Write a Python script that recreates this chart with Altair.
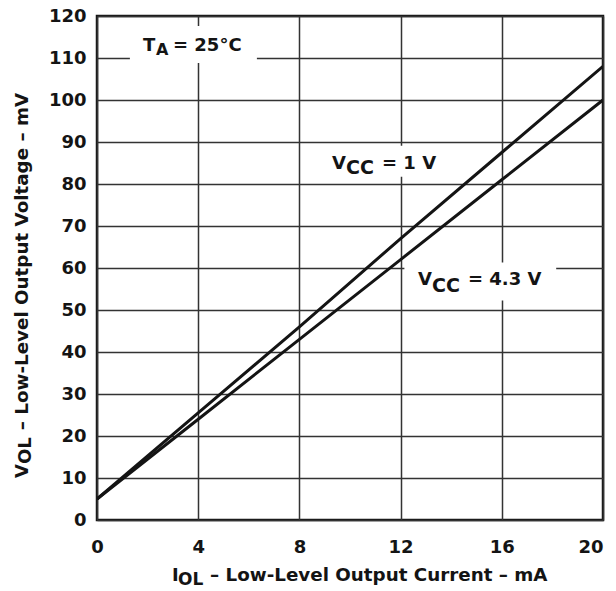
import altair as alt
import pandas as pd

# ---- data ----
current_ma = [0, 4, 8, 12, 16, 20]
vol_vcc_1v = [5, 25.5, 46, 67, 87.5, 108]
vol_vcc_43v = [5, 24, 43, 62, 81, 100]
series_names = ["VCC = 1 V", "VCC = 4.3 V"]

x_ticks = [0, 4, 8, 12, 16, 20]
y_ticks = [0, 10, 20, 30, 40, 50, 60, 70, 80, 90, 100, 110, 120]

# annotation pieces (data units): text, x, y, font size
ann_text = ["T", "A", "= 25°C",
            "V", "CC", "= 1 V",
            "V", "CC", "= 4.3 V",
            "I", "OL", "– Low-Level Output Current – mA"]
ann_x = [1.818, 2.332, 3.004,
         9.288, 9.842, 11.265,
         12.688, 13.241, 14.664,
         2.96, 3.20, 4.47]
ann_y = [111.68, 110.73, 111.68,
         83.64, 82.46, 83.64,
         55.84, 54.18, 55.84,
         -14.50, -15.45, -14.50]
ann_size = [18, 16, 18,
            18, 19, 18,
            18, 19, 18,
            18, 17, 18.3]

# rotated y-axis title pieces
yt_text = ["V", "OL", "– Low-Level Output Voltage – mV"]
yt_x = [-2.747, -2.589, -2.747]
yt_y = [9.98, 13.31, 21.39]
yt_size = [18, 18, 18.3]

# white label backgrounds (break the grid behind labels)
box_x1 = [1.3, 9.0, 12.15]
box_x2 = [6.32, 13.55, 18.15]
box_y1 = [108.83, 81.74, 52.28]
box_y2 = [117.62, 89.11, 61.31]

# ---- tables ----
lines_df = pd.DataFrame({
    "i": current_ma * 2,
    "v": vol_vcc_1v + vol_vcc_43v,
    "s": [series_names[0]] * len(current_ma) + [series_names[1]] * len(current_ma),
})
ann_df = pd.DataFrame({"t": ann_text, "x": ann_x, "y": ann_y, "fs": ann_size})
yt_df = pd.DataFrame({"t": yt_text, "x": yt_x, "y": yt_y, "fs": yt_size})
box_df = pd.DataFrame({"x1": box_x1, "x2": box_x2, "y1": box_y1, "y2": box_y2})

FONT = "DejaVu Sans"
INK = "#141414"
GRID = "#333333"

x_scale = alt.Scale(domain=[0, 20], nice=False, zero=False)
y_scale = alt.Scale(domain=[0, 120], nice=False, zero=False)

x_axis = alt.Axis(values=x_ticks, grid=True, gridColor=GRID, gridWidth=1.5, gridOpacity=1,
                  domain=False, ticks=False, labelFont=FONT, labelFontWeight="bold",
                  labelFontSize=18, labelColor=INK, labelPadding=18, labelFlush=False,
                  labelAlign={"condition": {"test": "datum.value >= 20", "value": "right"},
                              "value": "center"},
                  title=None)
y_axis = alt.Axis(values=y_ticks, grid=True, gridColor=GRID, gridWidth=1.5, gridOpacity=1,
                  domain=False, ticks=False, labelFont=FONT, labelFontWeight="bold",
                  labelFontSize=18, labelColor=INK, labelPadding=11, title=None)


def xe(field):
    return alt.X(field, type="quantitative", scale=x_scale, axis=x_axis, title=None)


def ye(field):
    return alt.Y(field, type="quantitative", scale=y_scale, axis=y_axis, title=None)


boxes = alt.Chart(box_df).mark_rect(color="white").encode(
    x=xe("x1"), x2="x2:Q", y=ye("y1"), y2="y2:Q"
)

lines = alt.Chart(lines_df).mark_line(strokeWidth=3, color=INK, clip=True).encode(
    x=xe("i"), y=ye("v"), detail="s:N"
)

labels = alt.Chart(ann_df).mark_text(
    font=FONT, fontWeight="bold", align="left", baseline="alphabetic", color=INK
).encode(x=xe("x"), y=ye("y"), text="t:N", size=alt.Size("fs:Q", scale=None))

ytitle = alt.Chart(yt_df).mark_text(
    font=FONT, fontWeight="bold", align="left", baseline="alphabetic", color=INK, angle=270
).encode(x=xe("x"), y=ye("y"), text="t:N", size=alt.Size("fs:Q", scale=None))

chart = alt.layer(boxes, lines, labels, ytitle).properties(
    width=506, height=504,
    autosize=alt.AutoSizeParams(type="none"),
    padding={"left": 89, "top": 8, "right": 5, "bottom": 68},
    background="white",
).configure_view(stroke=INK, strokeWidth=2.5)

chart.save("out.html", embed_options={"renderer": "svg", "actions": False})
